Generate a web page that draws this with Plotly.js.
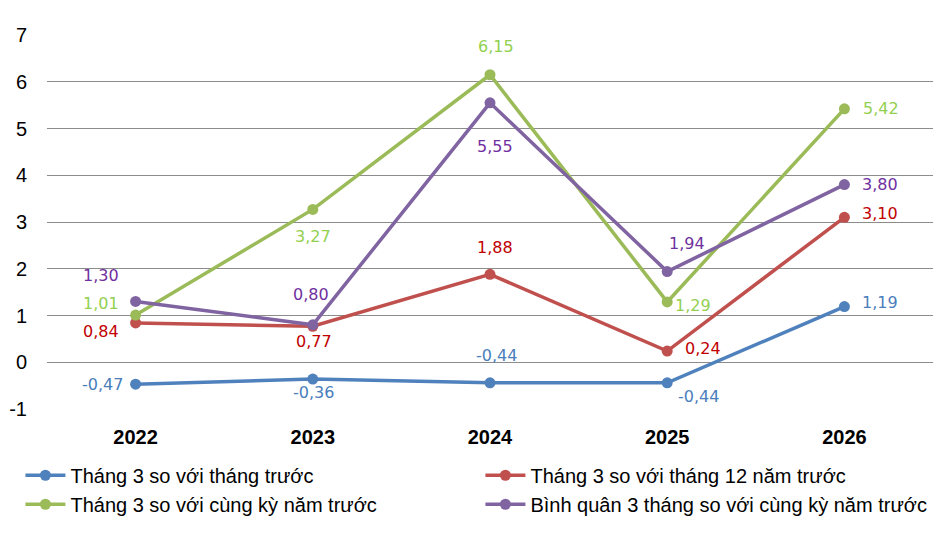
<!DOCTYPE html>
<html>
<head>
<meta charset="utf-8">
<script src="https://cdn.plot.ly/plotly-3.0.1.min.js"></script>
<style>body{margin:0;background:#fff}</style>
</head>
<body>
<div id="chart" style="width:945px;height:541px"></div>
<script>
var years = ['2022', '2023', '2024', '2025', '2026'];
var names = ['Tháng 3 so với tháng trước', 'Tháng 3 so với tháng 12 năm trước',
  'Tháng 3 so với cùng kỳ năm trước', 'Bình quân 3 tháng so với cùng kỳ năm trước'];
var soThangTruoc = [-0.47, -0.36, -0.44, -0.44, 1.19];
var soThang12 = [0.84, 0.77, 1.88, 0.24, 3.10];
var soCungKy = [1.01, 3.27, 6.15, 1.29, 5.42];
var binhQuan3Thang = [1.30, 0.80, 5.55, 1.94, 3.80];
var yTickVals = [-1, 0, 1, 2, 3, 4, 5, 6, 7];
var yTickText = ['-1', '0', '1', '2', '3', '4', '5', '6', '7'];

var lineColors = ['#4f81bd', '#c0504d', '#9bbb59', '#8064a2'];
var labelColors = ['#4a7ebb', '#c00000', '#92d050', '#7030a0'];
// label offsets from each point, in px [dx, dy]
var offsets = [
  [[-33, 0], [1, -13], [6, 27], [31, -14], [36, 4]],
  [[-35, -9], [1, -15], [5, 27], [36, 3], [36, 4]],
  [[-35, 12], [0, -27], [6, 28], [26, -4], [37, 0]],
  [[-35, 26], [-2, 30], [5, -44], [20, 28], [36, 0]]
];

function fmt(v) { return v.toFixed(2).replace('.', ','); }

function makeTrace(i, values) {
  return {
    x: years, y: values, name: names[i], type: 'scatter', mode: 'lines+markers',
    line: { color: lineColors[i], width: 3.5 },
    marker: { color: lineColors[i], size: 11 },
    cliponaxis: false, hoverinfo: 'skip'
  };
}

var series = [soThangTruoc, soThang12, soCungKy, binhQuan3Thang];
var traces = series.map(function (s, i) { return makeTrace(i, s); });

var annotations = [];
series.forEach(function (s, i) {
  s.forEach(function (v, j) {
    annotations.push({
      xref: 'x', yref: 'y', x: j, y: v, text: fmt(v), showarrow: false,
      xshift: offsets[i][j][0], yshift: offsets[i][j][1],
      font: { family: 'DejaVu Sans', size: 16, color: labelColors[i] }
    });
  });
});

var layout = {
  width: 945, height: 541, margin: { l: 47, r: 12, t: 35, b: 132 },
  paper_bgcolor: '#ffffff', plot_bgcolor: '#ffffff', showlegend: true,
  font: { family: 'Liberation Sans, Arial, sans-serif', color: '#000' },
  annotations: annotations,
  xaxis: { type: 'category', range: [-0.5, 4.5], showgrid: false, zeroline: false, showline: false,
    tickfont: { size: 20, family: 'Liberation Sans, Arial', weight: 'bold' }, ticklabelstandoff: 14 },
  yaxis: { range: [-1, 7], tickvals: yTickVals, ticktext: yTickText, showgrid: true, gridcolor: '#8c8c8c', gridwidth: 1,
    zeroline: false, showline: false, tickfont: { size: 20 }, ticklabelstandoff: 19 },
  legend: { orientation: 'h', x: -0.03, xanchor: 'left', y: -0.125, yanchor: 'top',
    entrywidth: 405, entrywidthmode: 'pixels', font: { size: 20 }, tracegroupgap: 0, itemwidth: 40 }
};

Plotly.newPlot('chart', traces, layout, { displayModeBar: false, staticPlot: true });
</script>
</body>
</html>
